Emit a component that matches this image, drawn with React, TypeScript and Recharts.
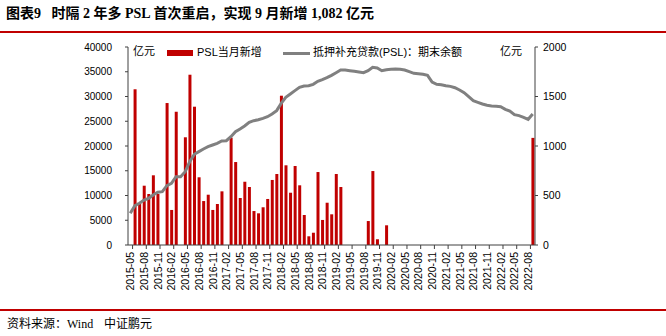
import React from "react";
import {
  ComposedChart,
  Bar,
  Line,
  XAxis,
  YAxis,
  LabelList,
} from "recharts";

// 2015-05 .. 2022-09, monthly
const months: string[] = [
  "2015-05", "2015-06", "2015-07", "2015-08", "2015-09", "2015-10", "2015-11", "2015-12",
  "2016-01", "2016-02", "2016-03", "2016-04", "2016-05", "2016-06", "2016-07", "2016-08", "2016-09", "2016-10", "2016-11", "2016-12",
  "2017-01", "2017-02", "2017-03", "2017-04", "2017-05", "2017-06", "2017-07", "2017-08", "2017-09", "2017-10", "2017-11", "2017-12",
  "2018-01", "2018-02", "2018-03", "2018-04", "2018-05", "2018-06", "2018-07", "2018-08", "2018-09", "2018-10", "2018-11", "2018-12",
  "2019-01", "2019-02", "2019-03", "2019-04", "2019-05", "2019-06", "2019-07", "2019-08", "2019-09", "2019-10", "2019-11", "2019-12",
  "2020-01", "2020-02", "2020-03", "2020-04", "2020-05", "2020-06", "2020-07", "2020-08", "2020-09", "2020-10", "2020-11", "2020-12",
  "2021-01", "2021-02", "2021-03", "2021-04", "2021-05", "2021-06", "2021-07", "2021-08", "2021-09", "2021-10", "2021-11", "2021-12",
  "2022-01", "2022-02", "2022-03", "2022-04", "2022-05", "2022-06", "2022-07", "2022-08", "2022-09",
];

// PSL当月新增 (亿元, right axis)
const monthlyNew: number[] = [
  0, 1573, 421, 599, 515, 704, 515, 0,
  1434, 354, 1346, 0, 1088, 1720, 1397, 684, 444, 508, 354, 414,
  542, 0, 1084, 838, 475, 639, 586, 343, 320, 381, 465, 657,
  717, 1508, 805, 528, 798, 603, 303, 88, 124, 737, 253, 427,
  310, 717, 586, 0, 0, 0, 0, 0, 242, 747, 58, 0,
  199, 0, 0, 0, 0, 0, 0, 0, 0, 0, 0, 0,
  0, 0, 0, 0, 0, 0, 0, 0, 0, 0, 0, 0,
  0, 0, 0, 0, 0, 0, 0, 0, 1082,
];

// 抵押补充贷款(PSL)：期末余额 (亿元, left axis)
const balance: number[] = [
  6400, 7940, 8420, 9090, 9430, 10100, 10650, 10770,
  11990, 12460, 13800, 13800, 14800, 16830, 18320, 18860, 19390, 19860, 20200, 20540,
  21010, 21070, 21880, 22890, 23430, 24040, 24780, 25120, 25300, 25590, 25920, 26460,
  27140, 28620, 29830, 30500, 31180, 31850, 32120, 32190, 32460, 33060, 33400, 33800,
  34280, 34810, 35350, 35350, 35210, 35080, 34950, 34810, 35210, 35890, 35760, 35210,
  35420, 35490, 35560, 35490, 35350, 35020, 34680, 34610, 34480, 34280, 32930, 32460,
  32390, 32190, 32050, 31780, 31310, 30770, 29960, 29150, 28820, 28480, 28220, 28080,
  28010, 27950, 27410, 27070, 26330, 26130, 25790, 25390, 26460,
];

const leftTicks = [0, 5000, 10000, 15000, 20000, 25000, 30000, 35000, 40000];
const rightTicks = [0, 500, 1000, 1500, 2000];

const data = months.map((m, i) => ({
  month: m,
  psl: monthlyNew[i],
  bal: balance[i],
}));

const RED = "#c00000";
const GRAY = "#808080";
const AXIS = "#404040";
const SANS = "'Liberation Sans', Arial, 'Noto Sans CJK SC', sans-serif";
const CJK = "'Noto Sans CJK SC', sans-serif";

const BAND = 407 / months.length;

const XTick = (props: any) => {
  const { x, y, payload } = props;
  return (
    <g>
      <line x1={x + BAND / 2} x2={x + BAND / 2} y1={y} y2={y + 4} stroke={AXIS} />
      <text
        x={x}
        y={y + 7}
        transform={`rotate(-90 ${x} ${y + 7})`}
        textAnchor="end"
        dominantBaseline="central"
        fontSize={10.5}
        fontFamily={SANS}
        fill="#000"
      >
        {payload.value}
      </text>
    </g>
  );
};

const LastLabel = (props: any) => {
  const { x, y, index, value } = props;
  if (index !== months.length - 1) return null;
  return (
    <text x={x - 8} y={y + 8} textAnchor="end" fontSize={10.5} fontFamily={SANS} fill="#000">
      {value}
    </text>
  );
};

export default function App() {
  return (
    <div
      style={{
        position: "absolute",
        left: 0,
        top: 0,
        width: 666,
        height: 336,
        background: "#fff",
        overflow: "hidden",
      }}
    >
      <div
        style={{
          position: "absolute",
          left: 6,
          top: 5,
          fontSize: 14,
          lineHeight: "18px",
          fontWeight: "bold",
          fontFamily: "'Liberation Serif', 'Noto Sans CJK SC', serif",
          whiteSpace: "pre",
        }}
      >
        {"图表9   时隔 2 年多 PSL 首次重启，实现 9 月新增 1,082 亿元"}
      </div>
      <div style={{ position: "absolute", left: 0, top: 31, width: 666, height: 2, background: RED }} />

      <div style={{ position: "absolute", left: 0, top: 0 }}>
        <ComposedChart
          width={666}
          height={310}
          data={data}
          margin={{ top: 47, right: 71, bottom: 5, left: 68 }}
        >
          <XAxis
            dataKey="month"
            interval={2}
            tickLine={false}
            tickSize={0}
            tickMargin={0}
            height={60}
            stroke={AXIS}
            tick={<XTick />}
          />
          <YAxis
            yAxisId="left"
            orientation="left"
            domain={[0, 40000]}
            ticks={leftTicks}
            width={60}
            tickSize={3}
            tickMargin={13}
            stroke={AXIS}
            tick={{ fontSize: 10, fontFamily: SANS, fill: "#000" }}
          />
          <YAxis
            yAxisId="right"
            orientation="right"
            domain={[0, 2000]}
            ticks={rightTicks}
            width={60}
            tickSize={3}
            tickMargin={5}
            stroke={AXIS}
            tick={{ fontSize: 10.5, fontFamily: SANS, fill: "#000", textAnchor: "start" }}
          />
          <Bar
            yAxisId="right"
            dataKey="psl"
            fill={RED}
            barSize={3}
            isAnimationActive={false}
          >
            <LabelList dataKey="psl" content={<LastLabel />} />
          </Bar>
          <Line
            yAxisId="left"
            dataKey="bal"
            type="linear"
            stroke={GRAY}
            strokeWidth={3}
            dot={false}
            isAnimationActive={false}
          />
        </ComposedChart>
      </div>

      {/* units */}
      <div style={{ position: "absolute", left: 133, top: 43, fontSize: 11, lineHeight: "14px", fontFamily: CJK }}>亿元</div>
      <div style={{ position: "absolute", left: 500, top: 43, fontSize: 11, lineHeight: "14px", fontFamily: CJK }}>亿元</div>

      {/* legend */}
      <div style={{ position: "absolute", left: 167, top: 50, width: 26, height: 6, background: RED }} />
      <div style={{ position: "absolute", left: 197, top: 45, fontSize: 11, lineHeight: "14px", fontFamily: SANS, whiteSpace: "pre" }}>
        PSL当月新增
      </div>
      <div style={{ position: "absolute", left: 283, top: 52, width: 27, height: 3, background: GRAY }} />
      <div style={{ position: "absolute", left: 313, top: 45, fontSize: 11, lineHeight: "14px", fontFamily: SANS, whiteSpace: "pre" }}>
        抵押补充贷款(PSL)：期末余额
      </div>

      <div style={{ position: "absolute", left: 0, top: 309, width: 666, height: 2, background: RED }} />
      <div
        style={{
          position: "absolute",
          left: 7,
          top: 315,
          fontSize: 12,
          lineHeight: "15px",
          fontFamily: "'Liberation Serif', 'Noto Sans CJK SC', serif",
          whiteSpace: "pre",
        }}
      >
        <span style={{ fontFamily: CJK }}>资料来源：</span>
        <span>Wind</span>
        <span style={{ fontFamily: CJK }}>{"    中证鹏元"}</span>
      </div>
    </div>
  );
}
